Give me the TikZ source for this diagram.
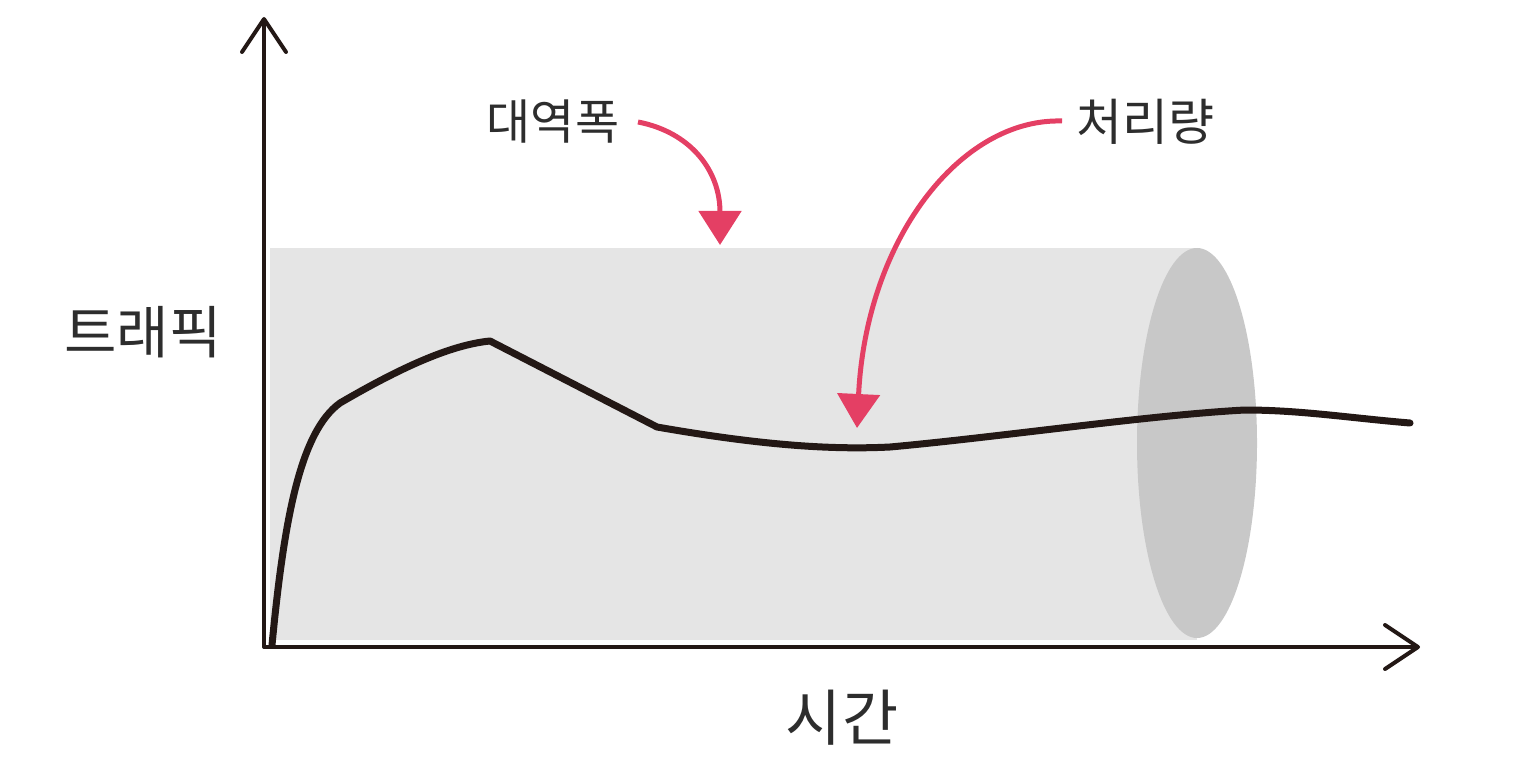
\documentclass[tikz,border=0pt]{standalone}
\usepackage{fontspec}
\newfontfamily\kr{Noto Sans CJK KR}
\usetikzlibrary{arrows.meta}
\definecolor{ink}{RGB}{35,24,21}
\definecolor{pink}{RGB}{228,63,100}
\definecolor{bandfill}{RGB}{229,229,229}
\definecolor{bandend}{RGB}{200,200,200}
\definecolor{txt}{RGB}{45,45,45}
\begin{document}
\begin{tikzpicture}[x=1pt,y=-1pt,
  axisline/.style={draw=ink,line width=3.5pt,line cap=round,
    -{Straight Barb[length=33pt,width=44pt,line width=4pt,round]}},
  pointer/.style={draw=pink,line width=5pt,
    -{Triangle[length=34pt,width=42pt]}},
  trafficline/.style={draw=ink,line width=7pt,line cap=round,line join=round},
  lbl/.style={text=txt,inner sep=0pt},
]
\useasboundingbox (0,0) rectangle (1530,759);
% bandwidth tube
\fill[bandfill] (270,248) rectangle (1197,640);
\fill[bandend] (1197,443) ellipse [x radius=60, y radius=195];
% axes
\coordinate (O) at (264,647);
\coordinate (ytop) at (264,17);
\coordinate (xend) at (1420,647);
\draw[axisline] (O) -- (ytop);
\draw[axisline] (O) -- (xend);
% traffic curve
\draw[trafficline] (272,645) .. controls (284,520) and (300,432) .. (340,403)
  .. controls (400,368) and (450,345) .. (490,341) -- (657,427)
  .. controls (760,445) and (830,450) .. (890,447)
  .. controls (1000,437) and (1150,415) .. (1245,410)
  .. controls (1300,410) and (1350,418) .. (1410,423);
% labels
\node[lbl,font=\kr\fontsize{48}{54}\selectfont] (bw) at (553,122) {대역폭};
\node[lbl,font=\kr\fontsize{50}{56}\selectfont] (tp) at (1145,122) {처리량};
\node[lbl,font=\kr\fontsize{57}{63}\selectfont] (traffic) at (143,332) {트래픽};
\node[lbl,font=\kr\fontsize{61}{67}\selectfont] (time) at (842,718) {시간};
% pointers
\coordinate (bwS) at (638,122);
\coordinate (bwE) at (720,245);
\coordinate (tpS) at (1062,121);
\coordinate (tpE) at (857,428);
\draw[pointer] (bwS) .. controls (690,132) and (720,170) .. (bwE);
\draw[pointer] (tpS) .. controls (960,118) and (866,240) .. (tpE);
\end{tikzpicture}
\end{document}
